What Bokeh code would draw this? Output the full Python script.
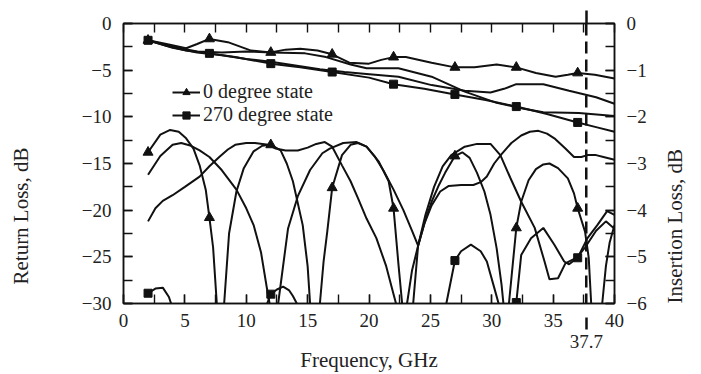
import numpy as np
from bokeh.plotting import figure
from bokeh.models import (LinearAxis, Range1d, SingleIntervalTicker, FixedTicker,
                          Legend, LegendItem, Span)
from math import pi
from bokeh.embed import file_html
from bokeh.resources import INLINE

FONT = "'Liberation Serif', 'Times New Roman', serif"

# ---------------- data ----------------
marker_freqs = [2, 7, 12, 17, 22, 27, 32, 37]
x_minor_ticks = [0, 2.5, 5, 7.5, 10, 12.5, 15, 17.5, 20, 22.5, 25, 27.5, 30, 32.5, 35, 37.5, 40]

# Insertion loss (right axis, dB)
il_0_freq = [2, 3.5, 5.1, 6, 7, 8.5, 10.4, 12, 13.2, 14.4, 15.8, 17, 18.4, 20, 21, 22, 23,
             25.1, 27, 28.6, 30.4, 32, 33.6, 35.2, 36.2, 37, 38.4, 40]
il_0_db = [-0.36, -0.44, -0.53, -0.44, -0.33, -0.40, -0.58, -0.62, -0.56, -0.54, -0.58, -0.66,
           -0.84, -0.86, -0.78, -0.72, -0.72, -0.84, -0.94, -0.94, -0.88, -0.94, -1.06, -1.14,
           -1.10, -1.06, -1.10, -1.18]

il_270_freq = [2, 3.5, 5.1, 7, 9.1, 12, 14.4, 17, 20, 22, 24.5, 27, 29.5, 32, 34.5, 37, 38.5, 40]
il_270_db = [-0.36, -0.48, -0.58, -0.64, -0.72, -0.86, -0.94, -1.04, -1.16, -1.30, -1.40,
             -1.52, -1.64, -1.78, -1.94, -2.12, -2.22, -2.32]

il_a_freq = [2, 4, 6, 8, 10, 12, 14.8, 16.5, 18.5, 19.8, 22.4, 25.1, 27.8, 30.4, 32.5, 34.2,
             37.1, 40]
il_a_db = [-0.36, -0.50, -0.60, -0.62, -0.60, -0.62, -0.64, -0.72, -0.88, -0.96, -0.96, -1.14,
           -1.46, -1.70, -1.82, -1.90, -1.92, -1.98]

il_b_freq = [2, 4, 6, 8, 10, 12, 14, 16, 18, 19.8, 22.4, 25.1, 27.8, 29.9, 31, 32, 34.2, 36.3,
             38.5, 40]
il_b_db = [-0.36, -0.52, -0.62, -0.68, -0.76, -0.82, -0.90, -0.98, -1.04, -1.08, -1.14, -1.32,
           -1.44, -1.48, -1.40, -1.30, -1.30, -1.44, -1.58, -1.72]

# Return loss (left axis, dB)
rl_0_freq = [2, 3, 3.8, 4.5, 5.1, 5.7, 6.2, 6.7, 7, 7.3, 7.6, 7.9, 8.2, 8.6, 9.2, 9.8, 10.6,
             11.3, 12, 12.8, 13.3, 13.8, 14.6, 15, 15.2, 15.6, 16, 16.3, 16.6, 17, 17.8, 18.5,
             19.1, 19.8, 20.8, 21.6, 22, 22.4, 22.7, 23.1, 23.6, 24, 24.6, 25.1, 25.7, 26.2, 27,
             27.6, 28.2, 28.8, 29.4, 29.9, 30.4, 30.8, 30.95, 31.2, 31.4, 32, 32.4, 33, 33.6,
             34.2, 34.7, 35.4, 36.2, 36.7, 37, 37.6, 37.9, 38.1, 38.5, 39, 39.3, 39.6, 40]
rl_0_db = [-13.8, -11.9, -11.4, -11.6, -12.3, -13.4, -15.2, -17.8, -20.8, -24, -30, -36, -30,
           -22.5, -18, -15.5, -13.7, -13.1, -13.0, -13.6, -15, -16.9, -21.6, -26, -30, -36, -30,
           -25.5, -22.3, -17.6, -14.1, -13.0, -12.8, -13.2, -14.8, -16.9, -19.8, -25.8, -30,
           -36, -30, -23.8, -21, -19.1, -17.3, -16.0, -14.2, -13.8, -14.4, -16.0, -18, -20.5,
           -24.1, -28, -30, -36, -30, -21.9, -19.1, -16.8, -15.6, -15.1, -15.0, -15.5, -16.6,
           -18.2, -19.8, -22.3, -25.1, -30, -36, -30, -26, -23.5, -21.6]

rl_270_freq = [2, 2.6, 3.2, 3.7, 4.0, 4.5, 7, 9, 11.3, 11.7, 12, 12.5, 13, 13.5, 13.8, 14.2,
               14.8, 17, 22, 25.5, 26.3, 27, 27.5, 28.3, 29.1, 29.6, 30.2, 30.6, 31.0, 31.6, 32,
               32.4, 33.2, 34.2, 35.1, 35.9, 36.3, 37, 37.8, 38.6, 39.4, 40]
rl_270_db = [-28.9, -28.4, -28.3, -29.3, -30.5, -34, -36, -36, -34, -30, -29.0, -28.5, -28.2,
             -28.6, -29.2, -30.2, -34, -36, -36, -34, -30, -25.4, -24.4, -23.7, -24.4, -25.5,
             -28.3, -30.2, -32, -30.5, -29.9, -24.8, -23.0, -21.9, -23.7, -25.5, -25.8, -25.1,
             -23.0, -21.6, -20.1, -20.5]

rl_c_freq = [2, 3, 4, 4.7, 5.5, 6.2, 7, 8, 9.2, 10, 10.6, 11.2, 11.7, 11.9, 12.3, 12.6, 12.9,
             13.4, 14.2, 15.2, 16.2, 16.8, 17.9, 19, 19.8, 20.5, 21.2, 22, 22.8, 23.5, 24, 24.5,
             25.1, 25.8, 26.5, 27.5, 28.5, 29.1, 29.6, 30.2, 30.8, 31.6, 32.4, 33.1, 33.8, 34.5,
             35.1, 36, 36.7, 37.3, 37.8, 38.5, 39.1, 40]
rl_c_db = [-16.2, -14.2, -13.0, -12.8, -13.1, -13.6, -14.3, -15.7, -17.8, -19.8, -21.6, -24.5,
           -28.5, -30, -36, -30, -27, -22, -18.5, -15.7, -13.9, -13.4, -12.8, -12.7, -13.2,
           -14.3, -15.8, -17.8, -20.0, -22.2, -23.8, -21.5, -19.5, -18.0, -17.4, -17.3, -17.3,
           -17.0, -16.4, -15.0, -14.0, -12.8, -12.0, -11.6, -11.5, -11.8, -12.3, -13.4, -14.3,
           -14.3, -14.1, -14.1, -14.3, -14.6]

rl_d_freq = [2, 2.6, 3.2, 4, 5, 6.2, 7, 7.8, 8.5, 9.1, 10, 10.7, 11.8, 12.4, 13.2, 14.2, 15,
             15.7, 16.4, 17, 17.8, 18.5, 19.1, 19.8, 20.6, 21.4, 22, 22.2, 22.6, 23.1, 23.5, 24,
             24.6, 25.3, 26, 26.7, 27.8, 28.8, 29.9, 30.7, 31.5, 32.4, 33.5, 34.3, 34.7, 35.4,
             36, 36.6, 37, 37.6, 38.5, 39.3, 40]
rl_d_db = [-21.2, -19.8, -19.0, -18.4, -17.5, -16.4, -15.3, -14.3, -13.5, -13.0, -12.8, -12.8,
           -13.0, -13.4, -13.6, -13.6, -13.3, -12.9, -12.7, -13.2, -15.2, -16.9, -18.7, -20.9,
           -23.0, -26.0, -29.0, -30, -36, -30, -26.5, -23.8, -20.5, -17.5, -15.3, -14.1, -13.2,
           -12.9, -12.9, -14.1, -16.5, -19.1, -21.9, -25.5, -27.4, -27.3, -25.7, -25.3, -25.0,
           -24.0, -22.2, -21.2, -22.0]

legend_labels = ["0 degree state", "270 degree state"]
marked_freq = 37.7

# ---------------- figure ----------------
p = figure(width=701, height=374, output_backend="svg", toolbar_location=None,
           x_range=Range1d(0, 40), y_range=Range1d(-30, 0),
           x_axis_location=None, y_axis_location=None,
           min_border_left=123, min_border_right=77, min_border_top=23, min_border_bottom=70)
p.extra_y_ranges = {"il": Range1d(-6, 0)}
p.outline_line_color = "#111111"
p.outline_line_width = 1.5
p.background_fill_color = "white"
p.border_fill_color = "white"
p.grid.visible = False

COL = "#111111"


def style(ax, size="19px"):
    ax.axis_line_color = COL
    ax.axis_line_width = 1.5
    ax.major_tick_in = 9
    ax.major_tick_out = 0
    ax.minor_tick_in = 9
    ax.minor_tick_out = 0
    ax.major_tick_line_color = COL
    ax.minor_tick_line_color = COL
    ax.major_tick_line_width = 1.4
    ax.minor_tick_line_width = 1.4
    ax.major_label_text_font = FONT
    ax.major_label_text_font_size = size
    ax.major_label_text_color = "#222222"
    ax.axis_label_text_font = FONT
    ax.axis_label_text_font_size = "21px"
    ax.axis_label_text_font_style = "normal"
    ax.axis_label_text_color = "#222222"


def try_set(ax, name, *vals):
    for v in vals:
        try:
            setattr(ax, name, v)
            return
        except Exception:
            pass


bottom = LinearAxis(ticker=SingleIntervalTicker(interval=5, num_minor_ticks=2),
                    major_label_standoff=10)
style(bottom)
p.add_layout(bottom, "below")

# second bottom axis: the 37.7 GHz mark and the axis title
bottom2 = LinearAxis(ticker=FixedTicker(ticks=[marked_freq]), major_label_standoff=5,
                     axis_label="Frequency, GHz", axis_label_standoff=-3)
style(bottom2)
bottom2.axis_line_color = None
bottom2.major_tick_in = 12
bottom2.major_tick_line_width = 2.5
p.add_layout(bottom2, "below")

# top axis: minor ticks every 2.5 GHz, plus the dashed mark sticking out at 37.7 GHz
top = LinearAxis(ticker=FixedTicker(ticks=[marked_freq], minor_ticks=x_minor_ticks),
                 major_label_standoff=0, major_label_overrides={marked_freq: ""})
style(top, "0px")
top.major_tick_in = 0
top.major_tick_out = 13
top.major_tick_line_width = 2.5
p.add_layout(top, "above")

# left axis title sits below the frame centre in the original; trailing no-break
# spaces shift the visible text down while the label stays centred
left = LinearAxis(ticker=SingleIntervalTicker(interval=5, num_minor_ticks=2),
                  major_label_standoff=12,
                  axis_label="Return Loss, dB" + "\u00a0" * 20, axis_label_standoff=46)
style(left)
p.add_layout(left, "left")

right = LinearAxis(y_range_name="il", ticker=SingleIntervalTicker(interval=1, num_minor_ticks=2),
                   major_label_standoff=12, axis_label="Insertion Loss, dB", axis_label_standoff=25)
style(right)
try_set(right, "axis_label_orientation", pi / 2)
try_set(right, "axis_label_align", "start", "left")
p.add_layout(right, "right")

LW = 2


def pick(xs, ys):
    xs = np.asarray(xs, dtype=float)
    ys = np.asarray(ys, dtype=float)
    m = np.isin(xs, marker_freqs)
    return xs[m], ys[m]


# return loss curves
for fx, fy in [(rl_c_freq, rl_c_db), (rl_d_freq, rl_d_db), (rl_0_freq, rl_0_db),
               (rl_270_freq, rl_270_db)]:
    p.line(fx, fy, line_width=LW, line_color=COL)

# insertion loss curves
for fx, fy in [(il_a_freq, il_a_db), (il_b_freq, il_b_db)]:
    p.line(fx, fy, line_width=LW, line_color=COL, y_range_name="il")
l_il0 = p.line(il_0_freq, il_0_db, line_width=LW, line_color=COL, y_range_name="il")
l_il270 = p.line(il_270_freq, il_270_db, line_width=LW, line_color=COL, y_range_name="il")

# markers
mx, my = pick(rl_0_freq, rl_0_db)
p.scatter(mx, my, marker="triangle", size=10, color=COL)
mx, my = pick(il_0_freq, il_0_db)
s_il0 = p.scatter(mx, my, marker="triangle", size=10, color=COL, y_range_name="il")
mx, my = pick(rl_270_freq, rl_270_db)
p.scatter(mx, my, marker="square", size=8, color=COL)
mx, my = pick(il_270_freq, il_270_db)
s_il270 = p.scatter(mx, my, marker="square", size=8, color=COL, y_range_name="il")

# dashed marker line at 37.7 GHz
p.add_layout(Span(location=marked_freq, dimension="height", line_dash="12 6",
                  line_width=2.5, line_color=COL))

leg_kw = dict(border_line_color=None, background_fill_alpha=0, padding=0, margin=0,
              spacing=0, glyph_width=28, glyph_height=18, label_height=18, label_standoff=3,
              label_text_font=FONT, label_text_font_size="20px", label_text_color="#222222")
p.add_layout(Legend(items=[LegendItem(label=legend_labels[0], renderers=[l_il0, s_il0])],
                    location=(49, 200), **leg_kw))
p.add_layout(Legend(items=[LegendItem(label=legend_labels[1], renderers=[l_il270, s_il270])],
                    location=(49, 177), **leg_kw))

open("out.html", "w").write(file_html(p, INLINE))
